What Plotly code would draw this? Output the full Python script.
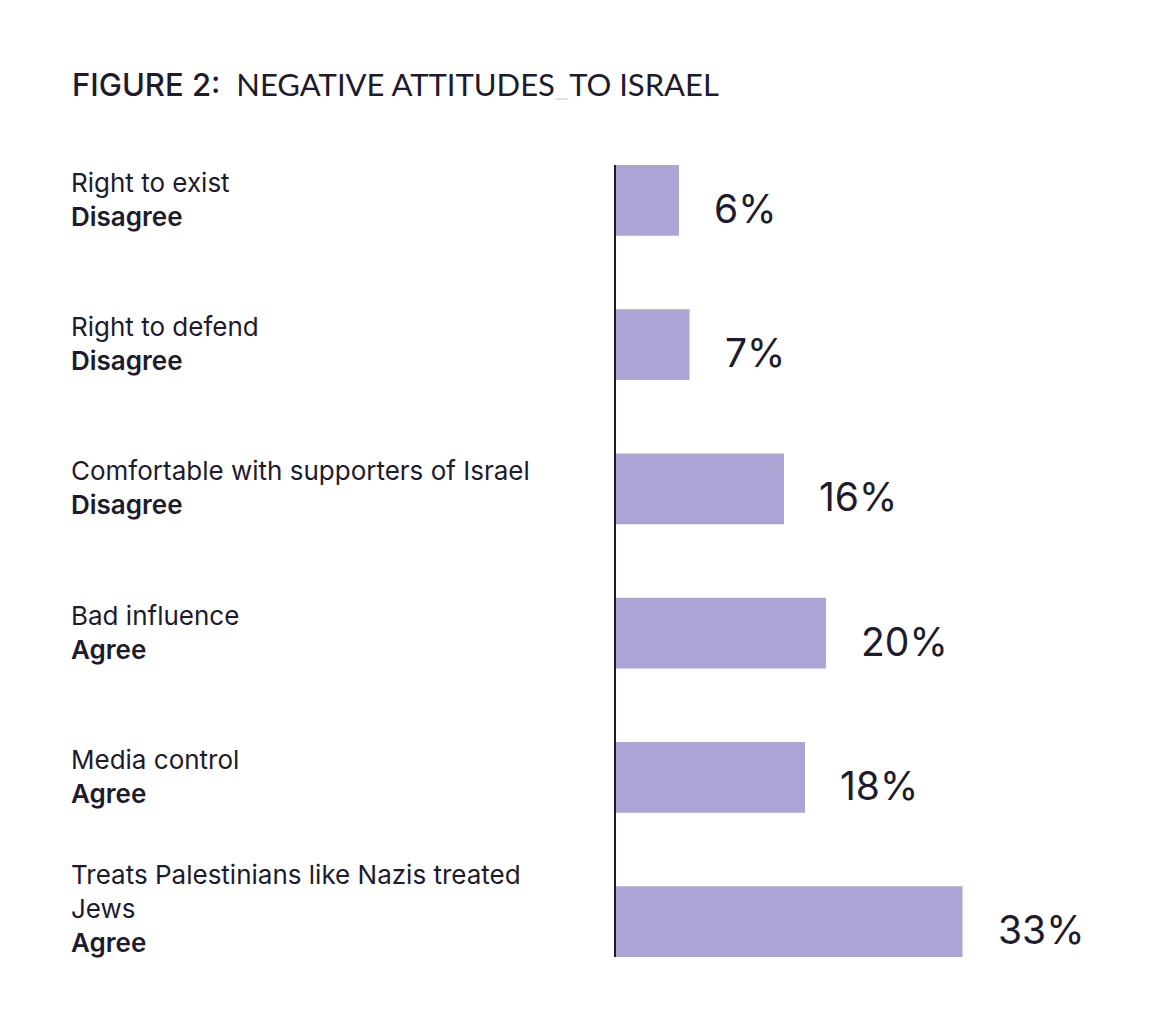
import plotly.graph_objects as go

categories = ["Right to exist", "Right to defend", "Comfortable with supporters of Israel",
              "Bad influence", "Media control", "Treats Palestinians like Nazis treated<br>Jews"]
responses = ["Disagree", "Disagree", "Disagree", "Agree", "Agree", "Agree"]
values = [6, 7, 16, 20, 18, 33]
value_labels = [f"{v}%" for v in values]

TEXT = "#1d1b2c"
BAR = "#aba4d4"
W, H = 1157, 1028
OFF = 8  # page body offset
L, T = 616 - OFF, 165 - OFF
B = H - (957 - OFF)
PX_PER_UNIT = 10.5
x_max = 50
R = W - L - int(round(x_max * PX_PER_UNIT))
bar_w = 0.49

ypos = list(range(len(categories)))

fig = go.Figure()
fig.add_trace(go.Bar(
    x=values, y=ypos, orientation="h", width=bar_w,
    marker=dict(color=BAR, line=dict(width=0)),
    hoverinfo="skip",
))

annotations = []
plot_w = W - L - R
label_x = (69 - OFF - L) / plot_w
for i, (c, r, v, lab) in enumerate(zip(categories, responses, values, value_labels)):
    nlines = c.count("<br>") + 2
    annotations.append(dict(
        x=label_x, xref="paper", y=i, yref="y",
        xanchor="left", yanchor="middle", align="left",
        text=f"{c}<br><span style='font-weight:600'>{r}</span>",
        showarrow=False,
        font=dict(family="Inter", size=26, color=TEXT),
        yshift=13 if nlines > 2 else 1,
    ))
    annotations.append(dict(
        x=v, xref="x", y=i, yref="y",
        xanchor="left", yanchor="middle",
        text=lab, showarrow=False, xshift=33, yshift=-8,
        font=dict(family="Inter", size=39, color=TEXT),
    ))

annotations.append(dict(
    x=(70 - OFF - L) / plot_w, xref="paper", y=1, yref="paper",
    xanchor="left", yanchor="middle", yshift=(T - (84 - OFF)),
    text="<span style='font-family:Inter;font-weight:500'>FIGURE 2:</span>"
         "<span style='font-family:Lato'>  NEGATIVE ATTITUDES</span>"
         "<span style='font-family:Lato;color:#dedede'>_</span>"
         "<span style='font-family:Lato'>TO ISRAEL</span>",
    showarrow=False,
    font=dict(family="Inter", size=31, color=TEXT),
))

fig.update_layout(
    width=W, height=H,
    margin=dict(l=L, r=R, t=T, b=B, pad=0),
    paper_bgcolor="white", plot_bgcolor="white",
    showlegend=False,
    annotations=annotations,
    xaxis=dict(range=[0, x_max], showgrid=False, zeroline=False, showticklabels=False,
               showline=False, fixedrange=True),
    yaxis=dict(range=[len(categories) - 1 + bar_w / 2, -bar_w / 2], showgrid=False,
               zeroline=False, showticklabels=False, showline=True, linecolor=TEXT,
               linewidth=2, fixedrange=True),
)

fig.write_html("out.html")
